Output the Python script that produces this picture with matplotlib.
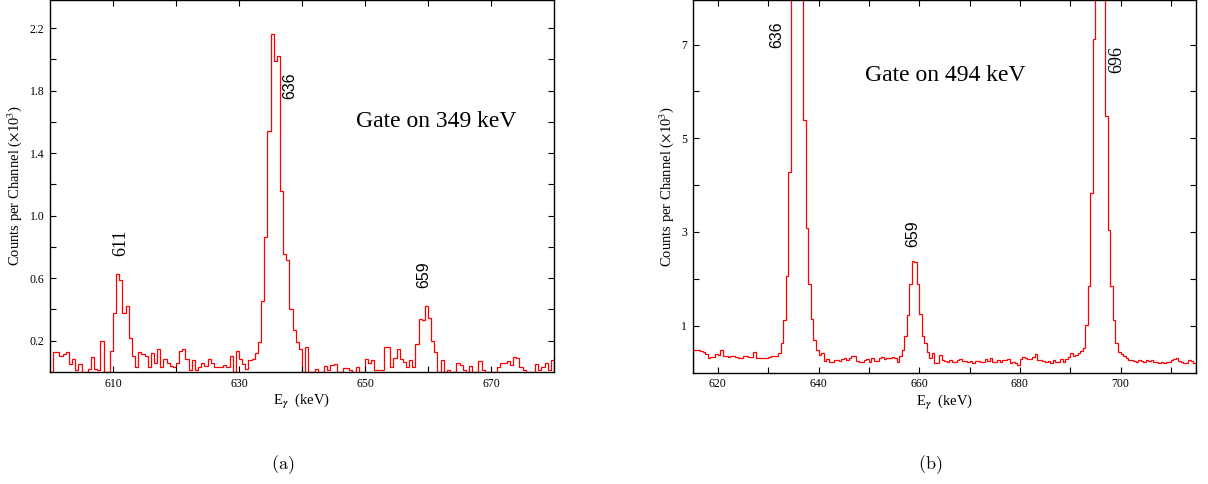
import numpy as np
import matplotlib
matplotlib.use('Agg')
import matplotlib.pyplot as plt

plt.rcParams['font.family'] = 'Liberation Serif'
plt.rcParams['mathtext.fontset'] = 'stix'

# spectrum (a): gate on 349 keV, counts per 0.5 keV channel (x10^3), 600-680 keV
start_a = 600.0
counts_a = [
    0.0, 0.13, 0.13, 0.10, 0.115, 0.13, 0.05, 0.085, 0.01, 0.05,
    0.0, 0.0, 0.02, 0.095, 0.02, 0.01, 0.20, 0.0, 0.0, 0.135,
    0.375, 0.63, 0.59, 0.375, 0.42, 0.22, 0.10, 0.03, 0.125, 0.115,
    0.105, 0.03, 0.12, 0.06, 0.15, 0.03, 0.08, 0.06, 0.04, 0.03,
    0.06, 0.135, 0.15, 0.08, 0.015, 0.075, 0.015, 0.035, 0.06, 0.04,
    0.08, 0.06, 0.03, 0.035, 0.035, 0.045, 0.035, 0.10, 0.0, 0.135,
    0.08, 0.05, 0.02, 0.075, 0.085, 0.12, 0.19, 0.455, 0.865, 1.54,
    2.16, 1.99, 2.02, 1.16, 0.755, 0.715, 0.40, 0.27, 0.19, 0.15,
    0.0, 0.16, 0.0, 0.0, 0.02, 0.0, 0.0, 0.04, 0.015, 0.045,
    0.05, 0.0, 0.0, 0.025, 0.025, 0.01, 0.0, 0.03, 0.0, 0.0,
    0.083, 0.058, 0.075, 0.015, 0.015, 0.01, 0.16, 0.16, 0.035, 0.088,
    0.15, 0.08, 0.066, 0.034, 0.077, 0.034, 0.18, 0.34, 0.33, 0.42,
    0.345, 0.20, 0.128, 0.0, 0.077, 0.0, 0.013, 0.0, 0.0, 0.055,
    0.045, 0.013, 0.0, 0.04, 0.0, 0.0, 0.073, 0.013, 0.0, 0.0,
    0.0, 0.0, 0.034, 0.055, 0.055, 0.073, 0.045, 0.098, 0.088, 0.034,
    0.013, 0.0, 0.0, 0.0, 0.051, 0.013, 0.034, 0.06, 0.01, 0.077,
]

# spectrum (b): gate on 494 keV, 615-715 keV
start_b = 615.0
counts_b = [
    0.48, 0.48, 0.47, 0.45, 0.44, 0.40, 0.30, 0.34, 0.34, 0.39,
    0.37, 0.48, 0.35, 0.35, 0.34, 0.35, 0.35, 0.34, 0.30, 0.30,
    0.35, 0.35, 0.34, 0.34, 0.44, 0.30, 0.32, 0.30, 0.30, 0.30,
    0.34, 0.35, 0.35, 0.36, 0.41, 0.62, 1.12, 2.06, 4.27, 9.0,
    13.5, 15.5, 12.5, 8.6, 5.38, 3.09, 1.89, 1.14, 0.69, 0.49,
    0.37, 0.42, 0.25, 0.28, 0.23, 0.23, 0.27, 0.27, 0.245, 0.28,
    0.32, 0.27, 0.30, 0.35, 0.35, 0.25, 0.23, 0.23, 0.27, 0.28,
    0.23, 0.32, 0.25, 0.25, 0.30, 0.34, 0.28, 0.32, 0.30, 0.34,
    0.32, 0.23, 0.35, 0.47, 0.77, 1.23, 1.89, 2.37, 2.35, 1.89,
    1.24, 0.77, 0.64, 0.44, 0.30, 0.42, 0.20, 0.20, 0.37, 0.27,
    0.25, 0.22, 0.27, 0.23, 0.23, 0.27, 0.28, 0.25, 0.25, 0.23,
    0.25, 0.21, 0.24, 0.25, 0.23, 0.23, 0.28, 0.25, 0.30, 0.23,
    0.23, 0.27, 0.23, 0.27, 0.27, 0.28, 0.21, 0.23, 0.20, 0.16,
    0.28, 0.33, 0.30, 0.28, 0.28, 0.34, 0.39, 0.27, 0.26, 0.25,
    0.23, 0.25, 0.21, 0.27, 0.23, 0.23, 0.28, 0.23, 0.28, 0.34,
    0.41, 0.35, 0.37, 0.41, 0.46, 0.52, 1.01, 1.85, 3.83, 7.11,
    10.5, 14.0, 13.0, 9.5, 5.47, 3.04, 1.85, 1.13, 0.64, 0.43,
    0.39, 0.35, 0.30, 0.27, 0.27, 0.25, 0.23, 0.27, 0.25, 0.23,
    0.27, 0.245, 0.27, 0.23, 0.23, 0.21, 0.23, 0.21, 0.23, 0.23,
    0.27, 0.28, 0.30, 0.25, 0.23, 0.21, 0.20, 0.27, 0.25, 0.21,
]
bin_w = 0.5

# peak labels: (text, energy, height, serif?)
peaks_a = [('611', 611.2, 0.825, True), ('636', 638.1, 1.83, False), ('659', 659.4, 0.62, False)]
peaks_b = [('636', 631.7, 7.2, False), ('659', 658.7, 2.96, False), ('696', 699.2, 6.67, True)]

xticks_a = list(range(610, 671, 10))
xlabels_a = ['610', '', '630', '', '650', '', '670']
yticks_a = [0.2, 0.4, 0.6, 0.8, 1.0, 1.2, 1.4, 1.6, 1.8, 2.0, 2.2]
ylabels_a = ['0.2', '', '0.6', '', '1.0', '', '1.4', '', '1.8', '', '2.2']
xticks_b = list(range(620, 711, 10))
xlabels_b = ['620', '', '640', '', '660', '', '680', '', '700', '']
yticks_b = [1, 2, 3, 4, 5, 6, 7]
ylabels_b = ['1', '', '3', '', '5', '', '7']

fig = plt.figure(figsize=(12.08, 4.84), dpi=100)
ax1 = fig.add_axes([50/1208, 112/484, 504/1208, 372/484])
ax2 = fig.add_axes([692.7/1208, 111.5/484, 503.3/1208, 372.5/484])


def draw(ax, counts, start, xlim, ylim, xt, xl, yt, yl, peaks, gate, gpos):
    edges = start + bin_w * np.arange(len(counts) + 1)
    ax.stairs(counts, edges, color='red', lw=0.9)
    ax.set_xlim(*xlim)
    ax.set_ylim(*ylim)
    ax.set_xticks(xt)
    ax.set_xticklabels(xl)
    ax.set_yticks(yt)
    ax.set_yticklabels(yl)
    ax.tick_params(direction='in', top=True, right=True, length=4, width=0.8,
                   labelsize=8.5, pad=4)
    for s in ax.spines.values():
        s.set_linewidth(1.0)
    ax.set_xlabel(r'E$_{\boldsymbol{\gamma}}$  (keV)', fontsize=10.5, labelpad=2)
    ax.set_ylabel(r'Counts per Channel ($\times$10$^3$)', fontsize=10.5, labelpad=4)
    for txt, x, y, serif in peaks:
        fam = 'Liberation Serif' if serif else 'Liberation Sans'
        size = 13 if serif else 11.5
        ax.text(x, y, txt, rotation=90, ha='center', va='center', family=fam, fontsize=size)
    ax.text(gpos[0], gpos[1], gate, ha='center', va='center', fontsize=17)


draw(ax1, counts_a, start_a, (600, 680), (0, 2.38), xticks_a, xlabels_a, yticks_a, ylabels_a,
     peaks_a, 'Gate on 349 keV', (661.3, 1.60))
draw(ax2, counts_b, start_b, (615, 715), (0, 7.95), xticks_b, xlabels_b, yticks_b, ylabels_b,
     peaks_b, 'Gate on 494 keV', (665.2, 6.33))

fig.text(283/1208, 1 - 465/484, r'$\mathrm{(a)}$', ha='center', va='center', fontsize=13, math_fontfamily='cm')
fig.text(930/1208, 1 - 465/484, r'$\mathrm{(b)}$', ha='center', va='center', fontsize=13, math_fontfamily='cm')

fig.savefig('out.png', dpi=100)
